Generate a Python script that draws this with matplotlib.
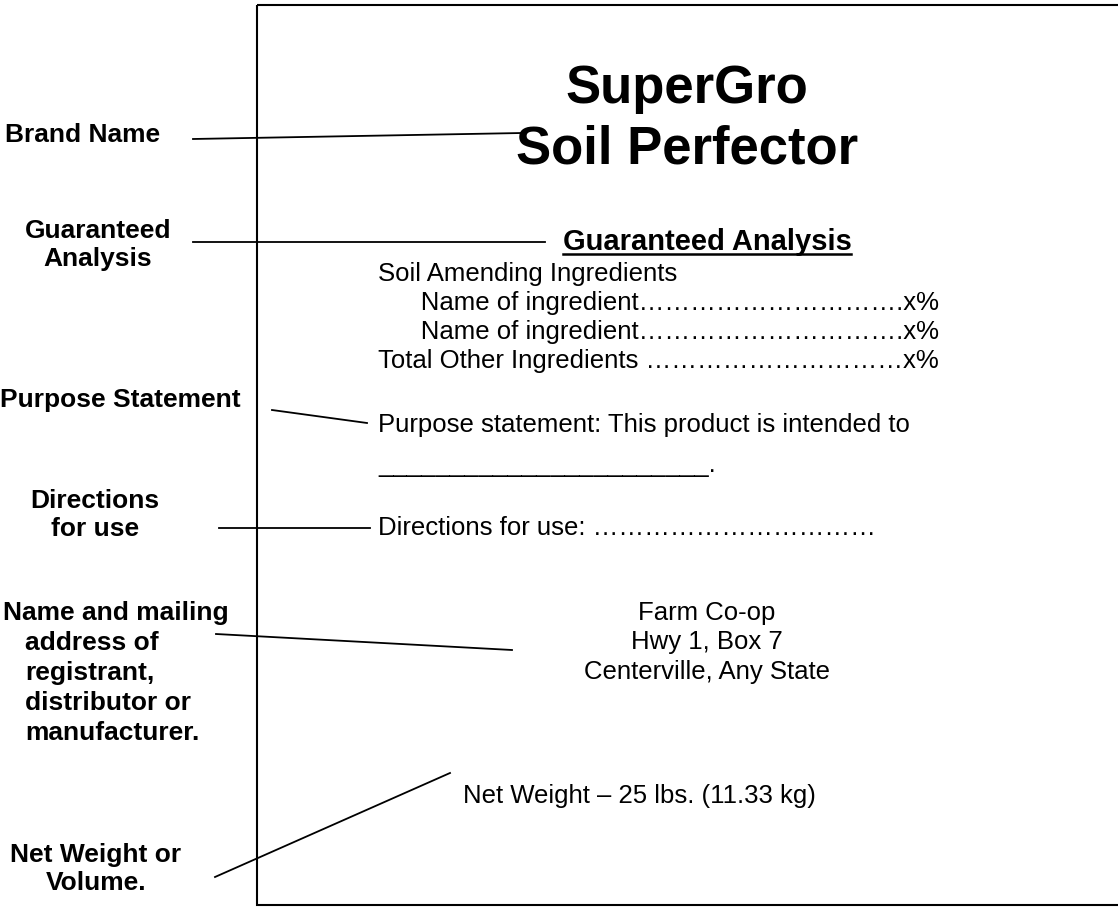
import matplotlib.pyplot as plt
from matplotlib.patches import Rectangle

plt.rcParams['font.family'] = ['Liberation Sans', 'DejaVu Sans']

# label text (left side) and the label's place on the page
side_labels = ['Brand Name', 'Guaranteed\nAnalysis', 'Purpose Statement',
               'Directions\nfor use', 'Net Weight or\nVolume.']
side_xy = [(83, 135), (98, 245), (120, 400), (95, 515), (96, 869)]

address_label = ['Name and mailing', 'address of', 'registrant,',
                 'distributor or', 'manufacturer.']

# pointer lines from the labels to the label content
pointers = [((193, 139), (522, 133)),
            ((193, 242), (545, 242)),
            ((272, 410), (367, 423)),
            ((219, 528), (370, 528)),
            ((216, 634), (512, 650)),
            ((215, 877), (450, 773))]

title_lines = ['SuperGro', 'Soil Perfector']
ingredient_lines = ['Soil Amending Ingredients',
                    '      Name of ingredient' + '\u2026' * 10 + '.x%',
                    '      Name of ingredient' + '\u2026' * 10 + '.x%',
                    'Total Other Ingredients ' + '\u2026' * 10 + 'x%']
purpose_lines = ['Purpose statement: This product is intended to',
                 '_' * 23 + '.']
directions = 'Directions for use: ' + '\u2026' * 11
address = ['Farm Co-op', 'Hwy 1, Box 7', 'Centerville, Any State']
net_weight = 'Net Weight \u2013 25 lbs. (11.33 kg)'

fig = plt.figure(figsize=(11.18, 9.10), dpi=100)
ax = fig.add_axes([0, 0, 1, 1])
ax.set_xlim(0, 1118)
ax.set_ylim(910, 0)
ax.axis('off')

# the label box
ax.add_patch(Rectangle((257, 5), 900, 900, fill=False, lw=1.5, ec='black'))

body = 18.5
side = 19

for t, (x, y) in zip(side_labels, side_xy):
    ax.text(x, y, t, ha='center', va='center', fontsize=side,
            fontweight='bold', linespacing=1.25)

ax.text(3, 613, address_label[0], ha='left', va='center', fontsize=side, fontweight='bold')
for i, t in enumerate(address_label[1:]):
    ax.text(25, 643 + 30 * i, t, ha='left', va='center', fontsize=side, fontweight='bold')

for (x0, y0), (x1, y1) in pointers:
    ax.plot([x0, x1], [y0, y1], color='black', lw=1.3)

for i, t in enumerate(title_lines):
    ax.text(687, 103 + 60 * i, t, ha='center', va='baseline', fontsize=38, fontweight='bold')

ax.text(707, 250, 'Guaranteed Analysis', ha='center', va='baseline',
        fontsize=21, fontweight='bold')
ax.plot([563, 851], [254, 254], color='black', lw=1.8)

for i, t in enumerate(ingredient_lines):
    ax.text(378, 281 + 29 * i, t, ha='left', va='baseline', fontsize=body)

ax.text(378, 432, purpose_lines[0], ha='left', va='baseline', fontsize=body)
ax.text(378, 472, purpose_lines[1], ha='left', va='baseline', fontsize=body)
ax.text(378, 535, directions, ha='left', va='baseline', fontsize=body)

for i, t in enumerate(address):
    ax.text(707, 620 + 29.5 * i, t, ha='center', va='baseline', fontsize=body)

ax.text(463, 803, net_weight, ha='left', va='baseline', fontsize=body)

fig.savefig('out.png', dpi=100)
